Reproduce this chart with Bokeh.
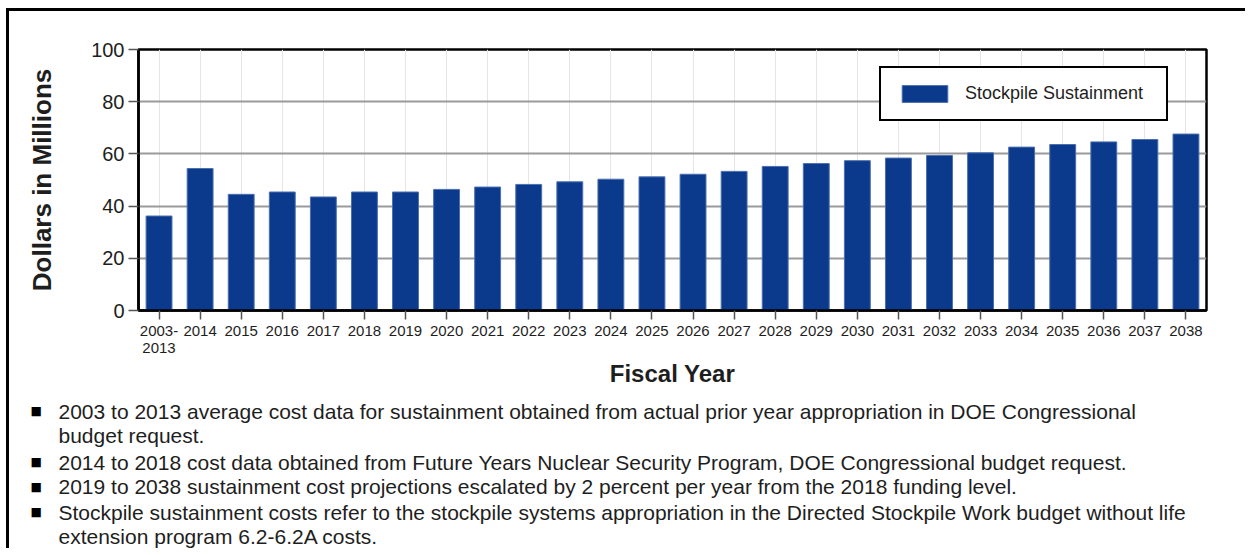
from bokeh.plotting import figure
from bokeh.models import (ColumnDataSource, FactorRange, Range1d, Legend,
                          LegendItem, FixedTicker, CategoricalAxis)
from bokeh.layouts import column
from bokeh.core.properties import value
from bokeh.embed import file_html
from bokeh.resources import INLINE

# ---- data ----
years = ["2003-2013", "2014", "2015", "2016", "2017", "2018", "2019", "2020",
         "2021", "2022", "2023", "2024", "2025", "2026", "2027", "2028",
         "2029", "2030", "2031", "2032", "2033", "2034", "2035", "2036",
         "2037", "2038"]
sustainment = [36.2, 54.4, 44.5, 45.4, 43.5, 45.4, 45.4, 46.4, 47.3, 48.3,
               49.3, 50.3, 51.2, 52.2, 53.3, 55.2, 56.3, 57.4, 58.4, 59.4,
               60.4, 62.6, 63.6, 64.6, 65.5, 67.6]
# tick labels: first line and second line (blank, unique placeholders)
tick_line1 = ["2003-"] + years[1:]
tick_line2 = ["2013"] + [" " * (i + 1) for i in range(len(years) - 1)]
y_ticks = [0, 20, 40, 60, 80, 100]
series_name = "Stockpile Sustainment"
note_lines = [
    "2003 to 2013 average cost data for sustainment obtained from actual prior year appropriation in DOE Congressional",
    "budget request.",
    "2014 to 2018 cost data obtained from Future Years Nuclear Security Program, DOE Congressional budget request.",
    "2019 to 2038 sustainment cost projections escalated by 2 percent per year from the 2018 funding level.",
    "Stockpile sustainment costs refer to the stockpile systems appropriation in the Directed Stockpile Work budget without life",
    "extension program 6.2-6.2A costs.",
]
note_bullets = [True, False, True, True, True, False]

FONT = "Liberation Sans"
TXT = "#1e1e1e"
BAR = "#0b3a8c"

src = ColumnDataSource(data=dict(year=years, value=sustainment))

W = 1236
p = figure(width=W, height=380, output_backend="svg", toolbar_location=None,
           x_range=FactorRange(*years, range_padding=0), y_range=Range1d(0, 100),
           x_axis_location=None,
           min_border_left=129, min_border_right=39, min_border_top=38,
           min_border_bottom=81)
p.frame_align = False
p.extra_x_ranges = {"l1": FactorRange(*tick_line1, range_padding=0),
                    "l2": FactorRange(*tick_line2, range_padding=0)}
p.background_fill_color = "white"
p.border_fill_color = "white"
p.outline_line_color = "black"
p.outline_line_width = 2.5

r = p.vbar(x="year", top="value", width=0.63, source=src,
           fill_color=BAR, line_color="#4b6fae", line_width=1)

# grid
p.ygrid.grid_line_color = "#9a9a9a"
p.ygrid.grid_line_width = 2
p.ygrid.ticker = FixedTicker(ticks=y_ticks)

# y axis
p.yaxis.ticker = FixedTicker(ticks=y_ticks)
p.yaxis.axis_line_color = "black"
p.yaxis.axis_line_width = 2.5
p.yaxis.major_tick_out = 10
p.yaxis.major_tick_in = 0
p.yaxis.major_tick_line_color = "#555555"
p.yaxis.major_tick_line_width = 1.5
p.yaxis.minor_tick_line_color = None
p.yaxis.major_label_text_font = FONT
p.yaxis.major_label_text_font_size = "20px"
p.yaxis.major_label_text_color = TXT
p.yaxis.major_label_standoff = 4
p.yaxis.axis_label = "Dollars in Millions"
p.yaxis.axis_label_text_font = FONT
p.yaxis.axis_label_text_font_style = "bold"
p.yaxis.axis_label_text_font_size = "26px"
p.yaxis.axis_label_text_color = TXT
p.yaxis.axis_label_standoff = 31

# x axis: first line of tick labels with ticks
ax1 = CategoricalAxis(x_range_name="l1", axis_line_color="black",
                      axis_line_width=2.5, major_tick_out=9, major_tick_in=0,
                      major_tick_line_color="#555555", major_tick_line_width=1.5,
                      major_label_standoff=6, major_label_text_font=FONT,
                      major_label_text_font_size="15px",
                      major_label_text_color=TXT)
p.add_layout(ax1, "below")

# second line of tick labels + axis title
ax2 = CategoricalAxis(x_range_name="l2", axis_line_color=None,
                      major_tick_out=0, major_tick_in=0,
                      major_tick_line_color=None, major_label_standoff=0,
                      major_label_text_font=FONT, major_label_text_font_size="15px",
                      major_label_text_color=TXT,
                      axis_label="Fiscal Year", axis_label_text_font=FONT,
                      axis_label_text_font_style="bold",
                      axis_label_text_font_size="24px",
                      axis_label_text_color=TXT, axis_label_standoff=1)
p.add_layout(ax2, "below")

# legend
legend = Legend(items=[LegendItem(label=series_name, renderers=[r])],
                location=(741, 189), margin=0, padding=15,
                glyph_width=57, glyph_height=21, label_height=17,
                label_width=186, label_standoff=12,
                label_text_font=FONT, label_text_font_size="18px",
                label_text_color=TXT,
                border_line_color="black", border_line_width=2.5,
                border_line_alpha=1.0,
                background_fill_color="white", background_fill_alpha=1.0)
p.add_layout(legend, "center")

# ---- notes panel ----
NH = 157
n = figure(width=W, height=NH, output_backend="svg", toolbar_location=None,
           x_range=Range1d(0, W), y_range=Range1d(NH, 0),
           x_axis_type=None, y_axis_type=None,
           min_border=0, min_border_left=0, min_border_right=0,
           min_border_top=0, min_border_bottom=0)
n.frame_align = False
n.outline_line_color = None
n.xgrid.grid_line_color = None
n.ygrid.grid_line_color = None
n.background_fill_color = "white"
n.border_fill_color = "white"

baselines = [19.5, 44, 70.5, 95, 120.5, 145]
n.text(x=[49] * len(note_lines), y=baselines, text=note_lines,
       text_font=value(FONT), text_font_size="21px", text_color=TXT,
       text_baseline="alphabetic", text_align="left")
bx = [21 for b in note_bullets if b]
by = [yb for yb, b in zip(baselines, note_bullets) if b]
n.text(x=bx, y=by, text=["\u25a0"] * len(bx), text_font=value("DejaVu Sans"),
       text_font_size="12px", text_color="black",
       text_baseline="alphabetic", text_align="left")

layout = column(p, n, spacing=0,
                styles={"border-top": "3px solid black",
                        "border-left": "3px solid black",
                        "margin-left": "6px", "margin-top": "8px"})

open("out.html", "w").write(file_html(layout, INLINE))
